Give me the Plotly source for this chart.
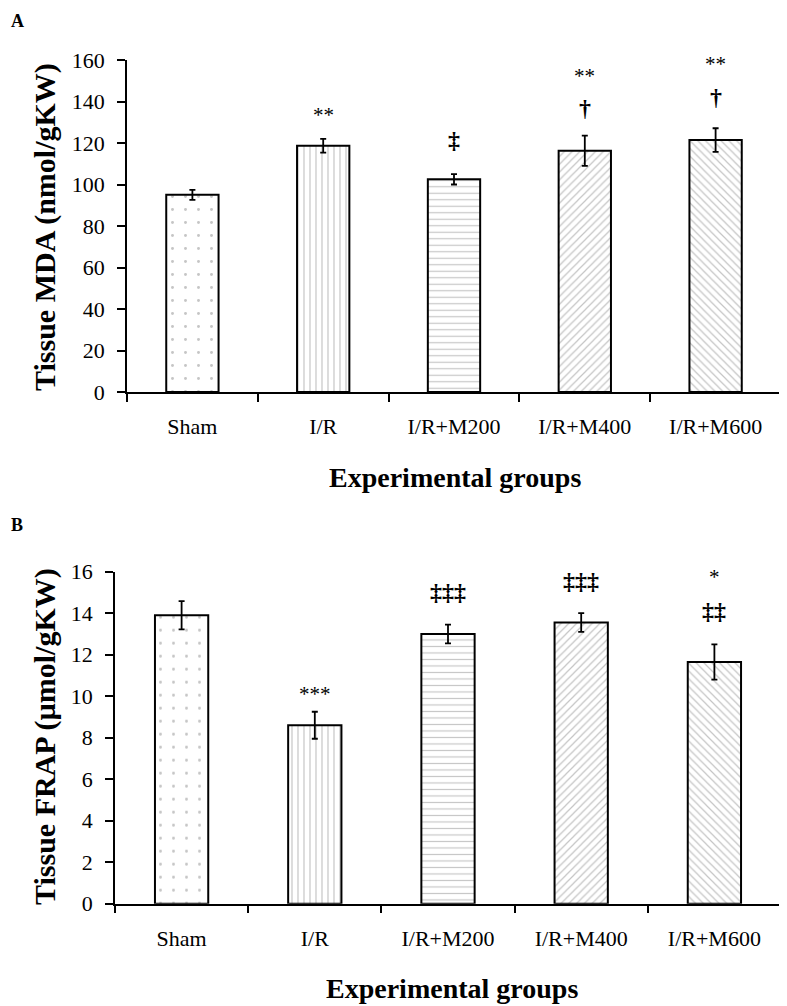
import plotly.graph_objects as go

groups = ["Sham", "I/R", "I/R+M200", "I/R+M400", "I/R+M600"]
mda = [95.0, 118.7, 102.5, 116.3, 121.4]
mda_err = [2.4, 3.3, 2.5, 7.3, 5.7]
frap = [13.9, 8.6, 13.0, 13.55, 11.65]
frap_err = [0.68, 0.65, 0.45, 0.45, 0.85]

mda_marks = [[], ["**"], ["‡"], ["†", "**"], ["†", "**"]]
frap_marks = [[], ["***"], ["‡‡‡"], ["‡‡‡"], ["‡‡", "*"]]

patterns = [(".", 13, 0.04), ("|", 6, 0.2), ("-", 6.5, 0.18), ("/", 5.5, 0.22), ("\\", 5.5, 0.22)]

# page has an 8px body margin; map screen pixels to figure coordinates
OFF = 8
W, H = 779, 998
SERIF = "Liberation Serif"

fig = go.Figure()

def add_panel(vals, errs, xa, ya):
    for i, g in enumerate(groups):
        shp, sz, sol = patterns[i]
        fig.add_trace(go.Bar(
            x=[g], y=[vals[i]], xaxis=xa, yaxis=ya, width=0.4,
            marker=dict(color="white", line=dict(color="black", width=2),
                        pattern=dict(shape=shp, size=sz, solidity=sol,
                                     fgcolor="#8c8c8c", bgcolor="white")),
            error_y=dict(type="data", array=[errs[i]], color="black",
                         thickness=1.8, width=3),
            showlegend=False))

add_panel(mda, mda_err, "x", "y")
add_panel(frap, frap_err, "x2", "y2")

def px(x):
    return (x - OFF) / W

def py(y):
    return 1 - (y - OFF) / H

axis_common = dict(showline=True, linecolor="black", linewidth=1.5,
                   ticks="outside", ticklen=8, tickwidth=1.5, tickcolor="black",
                   showgrid=False, zeroline=False, automargin=False,
                   tickfont=dict(family=SERIF, size=22, color="black"))

fig.update_layout(
    width=W, height=H, autosize=False,
    margin=dict(l=0, r=0, t=0, b=0, autoexpand=False),
    plot_bgcolor="white", paper_bgcolor="white",
    bargap=0.6,
    xaxis=dict(domain=[px(127), px(781)], anchor="y", type="category",
               categoryorder="array", categoryarray=groups, range=[-0.5, 4.5],
               tickson="boundaries", ticklabelstandoff=14, **axis_common),
    yaxis=dict(domain=[py(392), py(60)], anchor="x", range=[0, 160],
               tickvals=list(range(0, 161, 20)), ticklabelstandoff=8,
               **axis_common),
    xaxis2=dict(domain=[px(115), px(781)], anchor="y2", type="category",
                categoryorder="array", categoryarray=groups, range=[-0.5, 4.5],
                tickson="boundaries", ticklabelstandoff=14, **axis_common),
    yaxis2=dict(domain=[py(903.7), py(571.7)], anchor="x2", range=[0, 16],
                tickvals=list(range(0, 17, 2)), ticklabelstandoff=8,
                **axis_common),
)

anns = []
def marks(vals, errs, mk, xr, yr, shifts):
    for i, g in enumerate(groups):
        for j, m in enumerate(mk[i]):
            is_star = "*" in m
            anns.append(dict(x=g, y=vals[i] + errs[i], xref=xr, yref=yr,
                             text=m if is_star else "<b>" + m + "</b>",
                             showarrow=False, yanchor="middle",
                             yshift=shifts[i][j] - (2 if is_star else 0),
                             font=dict(family=SERIF, size=21 if is_star else 24,
                                       color="black")))

marks(mda, mda_err, mda_marks, "x", "y",
      [[], [26], [34], [28, 62], [31, 66]])
marks(frap, frap_err, frap_marks, "x2", "y2",
      [[], [20], [33], [32], [33, 69]])

title_font = dict(family=SERIF, size=28, color="black")
ytitle_font = dict(family=SERIF, size=30, color="black")
anns += [
    dict(x=px(9), y=py(9), xref="paper", yref="paper", text="<b>A</b>",
         showarrow=False, xanchor="left", yanchor="top",
         font=dict(family=SERIF, size=18, color="black")),
    dict(x=px(9), y=py(525), xref="paper", yref="paper", text="<b>B</b>",
         showarrow=False, xanchor="left", yanchor="middle",
         font=dict(family=SERIF, size=18, color="black")),
    dict(x=px(45), y=py(227), xref="paper", yref="paper",
         text="<b>Tissue MDA (nmol/gKW)</b>", textangle=-90, showarrow=False,
         xanchor="center", yanchor="middle", font=ytitle_font),
    dict(x=px(45), y=py(737), xref="paper", yref="paper",
         text="<b>Tissue FRAP (µmol/gKW)</b>", textangle=-90, showarrow=False,
         xanchor="center", yanchor="middle", font=ytitle_font),
    dict(x=px(455), y=py(477), xref="paper", yref="paper",
         text="<b>Experimental groups</b>", showarrow=False,
         xanchor="center", yanchor="middle", font=title_font),
    dict(x=px(452), y=py(988), xref="paper", yref="paper",
         text="<b>Experimental groups</b>", showarrow=False,
         xanchor="center", yanchor="middle", font=title_font),
]
fig.update_layout(annotations=anns)

fig.write_html("out.html")
